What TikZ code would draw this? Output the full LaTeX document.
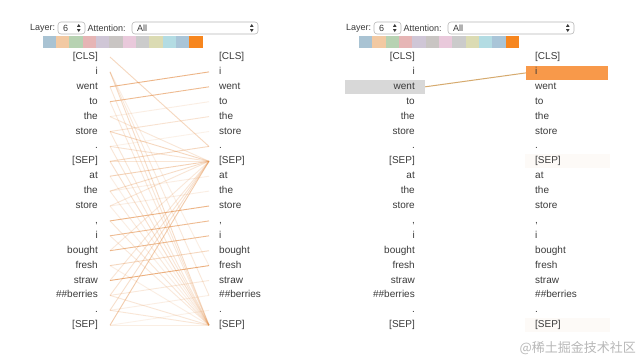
\documentclass[tikz,border=0pt]{standalone}
\usepackage{fontspec}
\setmainfont{Liberation Sans}
\newfontfamily\cjk{Noto Sans CJK SC}
\definecolor{tok}{HTML}{3A3A3A}
\definecolor{attn}{RGB}{228,142,72}
\definecolor{hiorange}{HTML}{F8994A}
\definecolor{higrey}{HTML}{D8D8D8}
\definecolor{boxborder}{HTML}{B8B8B8}
\definecolor{sc1}{HTML}{A9C3D3}
\definecolor{sc2}{HTML}{F2C9A2}
\definecolor{sc3}{HTML}{B7D2B2}
\definecolor{sc4}{HTML}{E6B5B5}
\definecolor{sc5}{HTML}{CFC6D6}
\definecolor{sc6}{HTML}{C9C5C3}
\definecolor{sc7}{HTML}{E9C9DB}
\definecolor{sc8}{HTML}{CBCBCB}
\definecolor{sc9}{HTML}{DBDBB3}
\definecolor{sc10}{HTML}{B3DCE3}
\definecolor{sc11}{HTML}{A9C5D8}
\definecolor{sc12}{HTML}{F7861E}
\tikzset{
  lefttok/.style={anchor=east,inner sep=0pt,text height=7pt,text depth=2pt,font=\fontsize{10}{12}\selectfont,text=tok},
  righttok/.style={anchor=west,inner sep=0pt,text height=7pt,text depth=2pt,font=\fontsize{10}{12}\selectfont,text=tok},
  hdr/.style={anchor=west,inner sep=0pt,font=\fontsize{9}{11}\selectfont,text=tok},
  dropbox/.style={draw=boxborder,fill=white,rounded corners=3pt,line width=0.6pt,minimum height=12pt,inner sep=0pt},
  swatch/.style={minimum width=13.33pt,minimum height=12pt,inner sep=0pt,draw=none},
  attnline/.style={draw=attn,line width=0.9pt},
  hlbox/.style={inner sep=0pt,draw=none},
}
\begin{document}
\begin{tikzpicture}[x=1pt,y=-1pt]
\useasboundingbox (0,0) rectangle (640,360);
\fill[white] (0,0) rectangle (640,360);

% ---------- headers ----------
\foreach \p/\ox in {a/0,b/316}{
  \node[hdr] (layer\p) at (30+\ox,28) {Layer:};
  \node[dropbox,minimum width=27pt] (ld\p) at (71.5+\ox,28) {};
  \node[hdr] (six\p) at (63+\ox,28) {6};
  \fill[tok] (77+\ox,26.8) -- (80.5+\ox,26.8) -- (78.75+\ox,24) -- cycle;
  \fill[tok] (77+\ox,29.2) -- (80.5+\ox,29.2) -- (78.75+\ox,32) -- cycle;
  \node[hdr] (att\p) at (87.5+\ox,28) {Attention:};
  \node[dropbox,minimum width=126pt] (ad\p) at (195+\ox,28) {};
  \node[hdr] (all\p) at (137+\ox,28) {All};
  \fill[tok] (250+\ox,26.8) -- (253.5+\ox,26.8) -- (251.75+\ox,24) -- cycle;
  \fill[tok] (250+\ox,29.2) -- (253.5+\ox,29.2) -- (251.75+\ox,32) -- cycle;
}
% colour strips
\foreach \c [count=\i from 0] in {sc1,sc2,sc3,sc4,sc5,sc6,sc7,sc8,sc9,sc10,sc11,sc12}{
  \node[swatch,fill=\c] (swa\i) at (49.4+13.33*\i,41.7) {};
  \node[swatch,fill=\c] (swb\i) at (365.7+13.33*\i,41.7) {};
}

% ---------- right panel highlight boxes ----------
\node[hlbox,fill=attn,fill opacity=0.045,minimum width=85pt,minimum height=14pt] (sepA) at (567,161.3) {};
\node[hlbox,fill=attn,fill opacity=0.04,minimum width=85pt,minimum height=14pt] (sepB) at (567,325.2) {};
\node[hlbox,fill=higrey,minimum width=80pt,minimum height=13.5pt] (wbox) at (385,86.8) {};
\node[hlbox,fill=hiorange,minimum width=82pt,minimum height=13.5pt] (ibox) at (567,72.9) {};
\draw[draw={rgb,255:red,214;green,170;blue,110},line width=1pt] (wbox.east) -- (ibox.west);

% ---------- tokens ----------
\foreach \t [count=\k from 0] in {{[CLS]},{i},{went},{to},{the},{store},{.},{[SEP]},{at},{the},{store},{,},{i},{bought},{fresh},{straw},{\#\#berries},{.},{[SEP]}}{
  \pgfmathsetmacro\yy{57+14.9*\k}
  \node[lefttok] (La\k) at (98,\yy) {\t};
  \node[righttok] (Ra\k) at (219,\yy) {\t};
  \node[lefttok] (Lb\k) at (415,\yy) {\t};
  \node[righttok] (Rb\k) at (535,\yy) {\t};
}

% ---------- attention lines (left panel) ----------
\foreach \a/\b/\o in {
  2/1/.65, 3/2/.6, 4/3/.15, 5/4/.25, 6/5/.12, 7/6/.35, 8/7/.4, 9/8/.15, 10/9/.15,
  11/10/.65, 12/11/.6, 13/12/.6, 14/13/.35, 15/14/.7, 16/15/.2, 17/16/.15, 18/17/.12,
  0/6/.35,
  4/7/.22, 5/7/.35, 6/7/.25, 7/7/.22, 9/7/.3, 10/7/.22, 13/7/.2, 15/7/.22, 16/7/.25, 17/7/.28, 18/7/.45,
  1/18/.3, 1/16/.2, 1/14/.15, 2/18/.22, 3/18/.2, 5/18/.22, 6/18/.22, 7/18/.28, 9/18/.2,
  11/18/.22, 12/18/.2, 14/18/.15, 16/18/.22, 17/18/.22, 18/18/.15, 8/18/.15, 10/18/.15}{
  \draw[attnline,draw opacity=\o] ([xshift=12pt]La\a.east) -- ([xshift=-10pt]Ra\b.west);
}

% ---------- watermark ----------
\node[anchor=east,inner sep=0pt,text=black!28,font=\cjk\fontsize{13}{15}\selectfont] (wm) at (636,348) {@稀土掘金技术社区};
\end{tikzpicture}
\end{document}
